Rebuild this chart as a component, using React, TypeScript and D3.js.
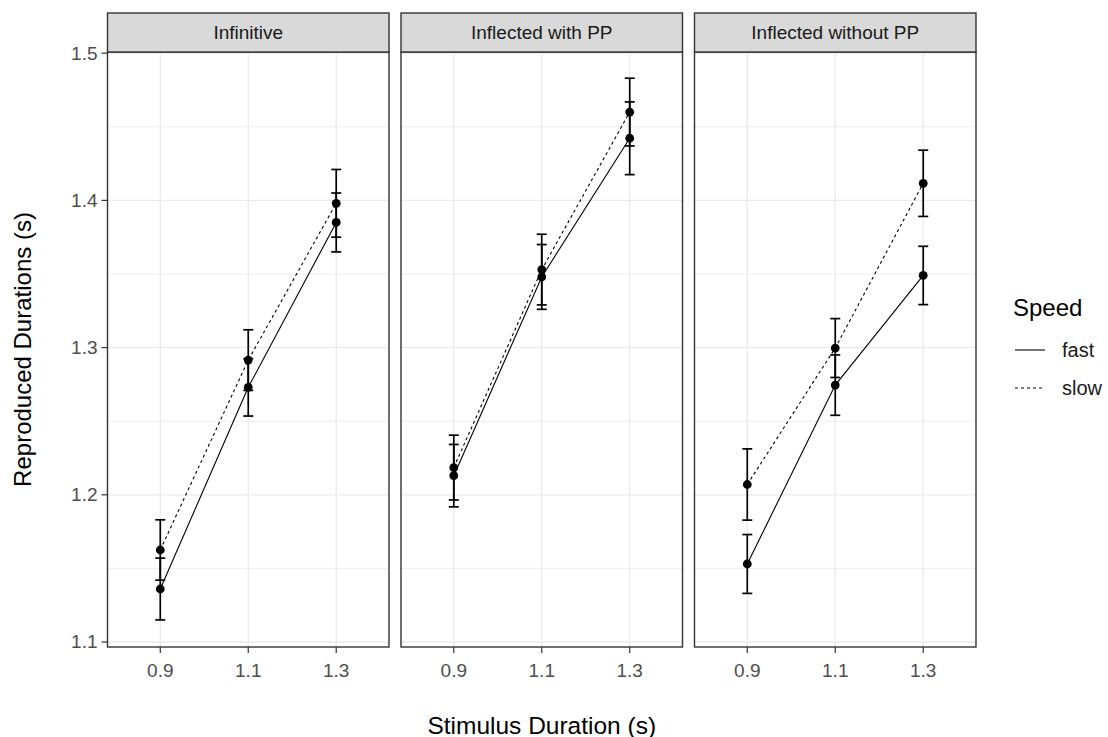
import React from "react";
import * as d3 from "d3";

// Stimulus durations (x categories) and facet conditions
const stimulus = ["0.9", "1.1", "1.3"];
const conditions = ["Infinitive", "Inflected with PP", "Inflected without PP"];
const speeds = ["fast", "slow"];

// Mean reproduced durations per condition, in stimulus order
const fastMeans = [
  [1.136, 1.273, 1.385],
  [1.213, 1.348, 1.4422],
  [1.153, 1.2745, 1.349],
];
const slowMeans = [
  [1.1625, 1.2915, 1.398],
  [1.2185, 1.353, 1.46],
  [1.207, 1.2997, 1.4116],
];

// Standard errors for the error bars
const fastSE = [
  [0.021, 0.0195, 0.02],
  [0.0212, 0.022, 0.0247],
  [0.02, 0.0205, 0.0198],
];
const slowSE = [
  [0.0205, 0.0206, 0.023],
  [0.022, 0.024, 0.023],
  [0.0242, 0.02, 0.0225],
];

const yTicks = [1.1, 1.2, 1.3, 1.4, 1.5];
const yMinor = [1.15, 1.25, 1.35, 1.45];

const FONT = "'Liberation Sans', Arial, sans-serif";
const W = 1108;
const H = 737;

const panelTop = 52;
const panelBottom = 647;
const stripTop = 13;
const firstLeft = 107.5;
const panelWidth = 281.5;
const panelGap = 12;

const dashFor: Record<string, string | undefined> = { fast: undefined, slow: "3,3" };

export default function App() {
  const y = d3.scaleLinear().domain([1.0966, 1.5008]).range([panelBottom, panelTop]);

  const line = d3
    .line<{ x: number; y: number }>()
    .x((d) => d.x)
    .y((d) => d.y);

  return (
    <svg
      width={W}
      height={H}
      style={{ position: "absolute", left: 0, top: 0, background: "#fff" }}
      fontFamily={FONT}
    >
      {/* y axis ticks and labels */}
      {yTicks.map((t) => (
        <g key={"yt" + t}>
          <line x1={firstLeft - 6} x2={firstLeft} y1={y(t)} y2={y(t)} stroke="#333" strokeWidth={1.2} />
          <text
            x={firstLeft - 10}
            y={y(t)}
            textAnchor="end"
            dominantBaseline="central"
            fontSize={19}
            fill="#4D4D4D"
          >
            {d3.format(".1f")(t)}
          </text>
        </g>
      ))}

      {conditions.map((cond, ci) => {
        const left = firstLeft + ci * (panelWidth + panelGap);
        const right = left + panelWidth;
        const x = d3.scalePoint<string>().domain(stimulus).range([left, right]).padding(0.6);
        const seriesData = speeds.map((sp) => {
          const means = sp === "fast" ? fastMeans[ci] : slowMeans[ci];
          const ses = sp === "fast" ? fastSE[ci] : slowSE[ci];
          return {
            speed: sp,
            pts: stimulus.map((s, i) => ({ s, m: means[i], se: ses[i] })),
          };
        });
        return (
          <g key={cond}>
            {/* panel background */}
            <rect x={left} y={panelTop} width={panelWidth} height={panelBottom - panelTop} fill="#fff" />
            {/* minor grid */}
            {yMinor.map((t) => (
              <line key={"mn" + t} x1={left} x2={right} y1={y(t)} y2={y(t)} stroke="#EBEBEB" strokeWidth={0.9} />
            ))}
            {/* major grid */}
            {yTicks.map((t) => (
              <line key={"mj" + t} x1={left} x2={right} y1={y(t)} y2={y(t)} stroke="#EBEBEB" strokeWidth={1.3} />
            ))}
            {stimulus.map((s) => (
              <line
                key={"vx" + s}
                x1={x(s)}
                x2={x(s)}
                y1={panelTop}
                y2={panelBottom}
                stroke="#EBEBEB"
                strokeWidth={1.3}
              />
            ))}

            {/* connecting lines */}
            {seriesData.map((sd) => (
              <path
                key={"ln" + sd.speed}
                d={line(sd.pts.map((p) => ({ x: x(p.s) as number, y: y(p.m) }))) || ""}
                fill="none"
                stroke="#000"
                strokeWidth={1.1}
                strokeDasharray={dashFor[sd.speed]}
              />
            ))}

            {/* error bars */}
            {seriesData.map((sd) =>
              sd.pts.map((p) => {
                const cx = x(p.s) as number;
                const yt = y(p.m + p.se);
                const yb = y(p.m - p.se);
                return (
                  <g key={"eb" + sd.speed + p.s} stroke="#000" strokeWidth={1.7}>
                    <line x1={cx} x2={cx} y1={yt} y2={yb} />
                    <line x1={cx - 5} x2={cx + 5} y1={yt} y2={yt} />
                    <line x1={cx - 5} x2={cx + 5} y1={yb} y2={yb} />
                  </g>
                );
              })
            )}

            {/* points */}
            {seriesData.map((sd) =>
              sd.pts.map((p) => (
                <circle key={"pt" + sd.speed + p.s} cx={x(p.s) as number} cy={y(p.m)} r={4.4} fill="#000" />
              ))
            )}

            {/* panel border */}
            <rect
              x={left}
              y={panelTop}
              width={panelWidth}
              height={panelBottom - panelTop}
              fill="none"
              stroke="#333"
              strokeWidth={1.4}
            />

            {/* strip */}
            <rect
              x={left}
              y={stripTop}
              width={panelWidth}
              height={panelTop - stripTop}
              fill="#D9D9D9"
              stroke="#333"
              strokeWidth={1.4}
            />
            <text
              x={(left + right) / 2}
              y={(stripTop + panelTop) / 2}
              textAnchor="middle"
              dominantBaseline="central"
              fontSize={19}
              fill="#1A1A1A"
            >
              {cond}
            </text>

            {/* x axis ticks and labels */}
            {stimulus.map((s) => (
              <g key={"xt" + s}>
                <line
                  x1={x(s)}
                  x2={x(s)}
                  y1={panelBottom}
                  y2={panelBottom + 6}
                  stroke="#333"
                  strokeWidth={1.2}
                />
                <text
                  x={x(s)}
                  y={670}
                  textAnchor="middle"
                  dominantBaseline="central"
                  fontSize={19}
                  fill="#4D4D4D"
                >
                  {s}
                </text>
              </g>
            ))}
          </g>
        );
      })}

      {/* axis titles */}
      <text
        x={firstLeft + (3 * panelWidth + 2 * panelGap) / 2}
        y={725}
        textAnchor="middle"
        dominantBaseline="central"
        fontSize={24.5}
        fill="#000"
      >
        Stimulus Duration (s)
      </text>
      <text
        transform={`translate(22, ${(panelTop + panelBottom) / 2}) rotate(-90)`}
        textAnchor="middle"
        dominantBaseline="central"
        fontSize={24}
        fill="#000"
      >
        Reproduced Durations (s)
      </text>

      {/* legend */}
      <g>
        <text x={1013} y={307} dominantBaseline="central" fontSize={24} fill="#000">
          Speed
        </text>
        {speeds.map((sp, i) => {
          const ly = 350 + i * 38;
          return (
            <g key={"lg" + sp}>
              <line
                x1={1015}
                x2={1045}
                y1={ly}
                y2={ly}
                stroke="#000"
                strokeWidth={1.1}
                strokeDasharray={dashFor[sp]}
              />
              <text x={1062} y={ly} dominantBaseline="central" fontSize={20} fill="#1A1A1A">
                {sp}
              </text>
            </g>
          );
        })}
      </g>
    </svg>
  );
}
